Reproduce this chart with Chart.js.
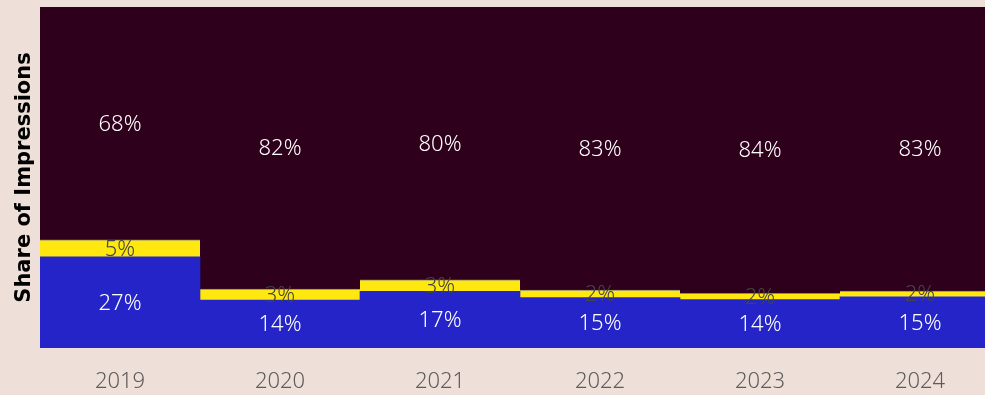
<!DOCTYPE html>
<html>
<head>
<meta charset="utf-8">
<script src="https://cdn.jsdelivr.net/npm/chart.js@4.4.1/dist/chart.umd.min.js"></script>
<style>
  html, body { margin: 0; padding: 0; background: #efdfd9; overflow: hidden; }
  #wrap { position: relative; width: 1000px; height: 395px; }
</style>
</head>
<body>
<div id="wrap"><canvas id="chart" width="1000" height="395"></canvas></div>
<script>
// Share of impressions by year
const years = ['2019', '2020', '2021', '2022', '2023', '2024'];
const blueShare = [26.7, 14.0, 16.6, 14.8, 14.2, 15.0];
const yellowShare = [5.0, 3.2, 3.4, 2.2, 1.8, 1.7];
const restShare = [68.3, 82.4, 80.0, 83.0, 84.0, 83.3];

const totals = years.map((_, i) => blueShare[i] + yellowShare[i] + restShare[i]);
const norm = arr => arr.map((v, i) => v / totals[i] * 100);

const labelFont = '300 22px "Noto Sans", "Open Sans", sans-serif';

// draws the % text in the middle of every segment
const segmentLabels = {
    id: 'segmentLabels',
    afterDatasetsDraw(chart) {
        const ctx = chart.ctx;
        ctx.save();
        ctx.font = labelFont;
        ctx.textAlign = 'center';
        ctx.textBaseline = 'middle';
        chart.data.datasets.forEach((ds, di) => {
            const meta = chart.getDatasetMeta(di);
            meta.data.forEach((bar, i) => {
                const mid = (bar.y + bar.base) / 2;
                ctx.fillStyle = ds.labelColor;
                ctx.fillText(Math.round(ds.raw[i]) + '%', bar.x, mid + 1);
            });
        });
        ctx.restore();
    }
};

new Chart(document.getElementById('chart'), {
    type: 'bar',
    data: {
        labels: years,
        datasets: [
            {
                data: norm(blueShare), raw: blueShare,
                backgroundColor: '#2424c9', labelColor: '#ffffff',
                borderWidth: 0
            },
            {
                data: norm(yellowShare), raw: yellowShare,
                backgroundColor: '#ffe80f', labelColor: '#444444',
                borderColor: '#8a8a7a', borderWidth: { top: 1, bottom: 0, left: 0, right: 0 }
            },
            {
                data: norm(restShare), raw: restShare,
                backgroundColor: '#2e001c', labelColor: '#ffffff',
                borderWidth: 0
            }
        ]
    },
    options: {
        responsive: false,
        animation: false,
        devicePixelRatio: 1,
        layout: { padding: { top: 7, right: 0, left: 0, bottom: 0 } },
        datasets: { bar: { barPercentage: 1, categoryPercentage: 1 } },
        plugins: {
            legend: { display: false },
            tooltip: { enabled: false }
        },
        scales: {
            x: {
                stacked: true,
                grid: { display: false, drawTicks: false },
                border: { display: false },
                ticks: {
                    color: '#5c5c5c',
                    padding: 21,
                    maxRotation: 0,
                    minRotation: 0,
                    font: { family: '"Noto Sans", "Open Sans", sans-serif', size: 22, weight: '300' }
                },
                afterFit: s => { s.height = 47; }
            },
            y: {
                stacked: true,
                min: 0,
                max: 100,
                grid: { display: false, drawTicks: false },
                border: { display: false },
                ticks: { display: false },
                title: {
                    display: true,
                    text: 'Share of Impressions',
                    color: '#000000',
                    padding: { top: 12, bottom: 0 },
                    font: { family: '"DejaVu Sans", sans-serif', size: 21, weight: 'bold' }
                },
                afterFit: s => { s.width = 40; }
            }
        }
    },
    plugins: [segmentLabels]
});
</script>
</body>
</html>
